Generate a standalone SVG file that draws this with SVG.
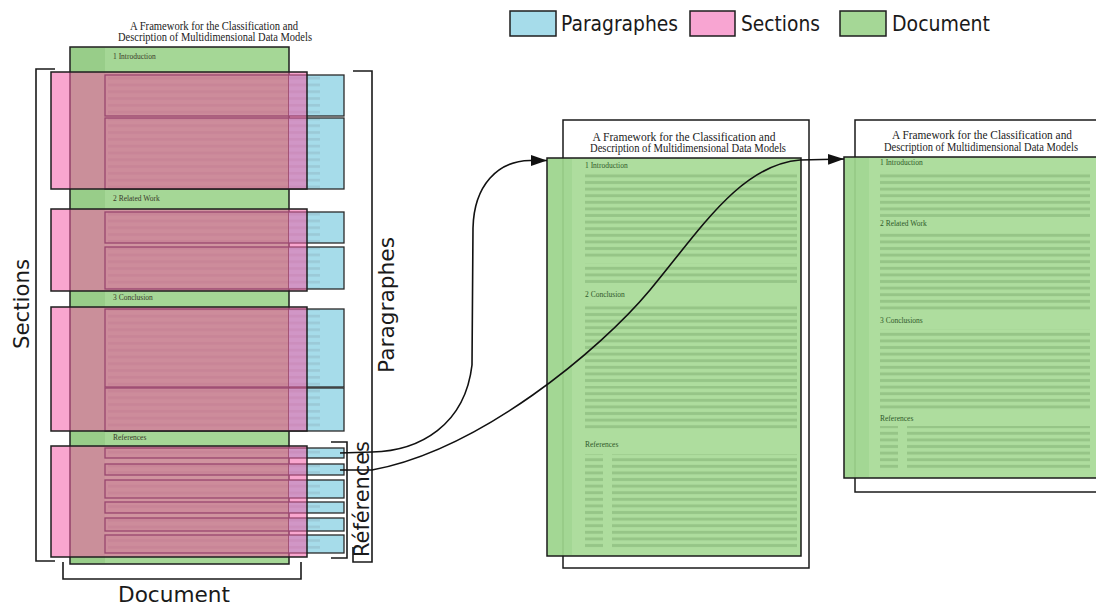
<svg xmlns="http://www.w3.org/2000/svg" width="1096" height="608" viewBox="0 0 1096 608">
<style>
.lbl{font-family:"DejaVu Sans","Liberation Sans",sans-serif;font-size:21px;fill:#1a1a1a}
.ttl{font-family:"Liberation Serif","DejaVu Serif",serif;font-size:11.5px;fill:#222}
.hd{font-family:"Liberation Serif","DejaVu Serif",serif;font-size:7.5px;fill:#2f5a2a}
.hdl{font-family:"Liberation Serif","DejaVu Serif",serif;font-size:7.5px;fill:#3a3a2a}
.blue{fill:#a6dcea;stroke:#1e1e1e;stroke-width:1.5}
.pink{fill:#f8a5d2;stroke:#1e1e1e;stroke-width:1.5}
.green{fill:#a5d796;stroke:#1e1e1e;stroke-width:1.5}
.sec{fill:#f45da8;fill-opacity:0.55;stroke:#1e1e1e;stroke-width:1.5}
.par{fill:none;stroke:#2a2a2a;stroke-width:1.3}
.parb{fill:#a6dcea;stroke:none}
.tint{fill:#5a2a3a;fill-opacity:0.1}
.brk{fill:none;stroke:#1a1a1a;stroke-width:1.6}
.page{fill:#fff;stroke:#1a1a1a;stroke-width:1.5}
.pg{fill:#a5d994;fill-opacity:0.9;stroke:#1a1a1a;stroke-width:1.5}
.conn{fill:none;stroke:#111;stroke-width:1.6}
</style>
<defs>
<pattern id="tl" patternUnits="userSpaceOnUse" width="8" height="6.8">
<rect x="0" y="2" width="8" height="2.6" fill="#3a2a30" fill-opacity="0.1"/>
</pattern>
<pattern id="tp" patternUnits="userSpaceOnUse" width="8" height="6.6" y="1">
<rect x="0" y="1.8" width="8" height="3" fill="#3f7036" fill-opacity="0.22"/>
</pattern>
<marker id="arr" markerUnits="userSpaceOnUse" markerWidth="17" markerHeight="11" refX="16" refY="5.5" orient="auto">
<path d="M0,0 L16,5.5 L0,11 z" fill="#111"/>
</marker>
</defs>
<rect width="1096" height="608" fill="#fff"/>

<!-- legend -->
<g id="legend-paragraphes"><rect class="blue" x="510" y="11" width="46" height="25"/><text class="lbl" x="561" y="31" textLength="117" lengthAdjust="spacingAndGlyphs">Paragraphes</text></g>
<g id="legend-sections"><rect class="pink" x="690" y="11" width="45" height="25"/><text class="lbl" x="741" y="31" textLength="79" lengthAdjust="spacingAndGlyphs">Sections</text></g>
<g id="legend-document"><rect class="green" x="840" y="11" width="46" height="25"/><text class="lbl" x="892" y="31" textLength="98" lengthAdjust="spacingAndGlyphs">Document</text></g>

<!-- left document -->
<g id="doc-title">
<text class="ttl" x="214" y="30" text-anchor="middle" textLength="168" lengthAdjust="spacingAndGlyphs">A Framework for the Classification and</text>
<text class="ttl" x="215" y="41" text-anchor="middle" textLength="194" lengthAdjust="spacingAndGlyphs">Description of Multidimensional Data Models</text>
</g>
<g id="document">
<rect class="green" x="70" y="47" width="219" height="517"/>
<rect x="71" y="48" width="34" height="515" fill="#98cd89"/>
<text class="hdl" x="113" y="59">1 Introduction</text>
<text class="hdl" x="113" y="201">2 Related Work</text>
<text class="hdl" x="113" y="300">3 Conclusion</text>
<text class="hdl" x="113" y="440">References</text>
</g>
<g id="paragraphs">
<g id="p1"><rect class="parb" x="289" y="75" width="55" height="41"/><rect class="tint" x="105" y="75" width="184" height="41"/><rect x="108" y="75" width="212" height="41" fill="url(#tl)"/><rect class="par" x="105" y="75" width="239" height="41"/></g>
<g id="p2"><rect class="parb" x="289" y="118" width="55" height="71"/><rect class="tint" x="105" y="118" width="184" height="71"/><rect x="108" y="118" width="212" height="71" fill="url(#tl)"/><rect class="par" x="105" y="118" width="239" height="71"/></g>
<g id="p3"><rect class="parb" x="289" y="212" width="55" height="31"/><rect class="tint" x="105" y="212" width="184" height="31"/><rect x="108" y="212" width="212" height="31" fill="url(#tl)"/><rect class="par" x="105" y="212" width="239" height="31"/></g>
<g id="p4"><rect class="parb" x="289" y="247" width="55" height="42"/><rect class="tint" x="105" y="247" width="184" height="42"/><rect x="108" y="247" width="212" height="42" fill="url(#tl)"/><rect class="par" x="105" y="247" width="239" height="42"/></g>
<g id="p5"><rect class="parb" x="289" y="309" width="55" height="78"/><rect class="tint" x="105" y="309" width="184" height="78"/><rect x="108" y="309" width="212" height="78" fill="url(#tl)"/><rect class="par" x="105" y="309" width="239" height="78"/></g>
<g id="p6"><rect class="parb" x="289" y="388" width="55" height="43"/><rect class="tint" x="105" y="388" width="184" height="43"/><rect x="108" y="388" width="212" height="43" fill="url(#tl)"/><rect class="par" x="105" y="388" width="239" height="43"/></g>
<g id="r1"><rect class="parb" x="289" y="448" width="55" height="10"/><rect class="tint" x="105" y="448" width="184" height="10"/><rect x="108" y="448" width="212" height="10" fill="url(#tl)"/><rect class="par" x="105" y="448" width="239" height="10"/></g>
<g id="r2"><rect class="parb" x="289" y="464" width="55" height="11"/><rect class="tint" x="105" y="464" width="184" height="11"/><rect x="108" y="464" width="212" height="11" fill="url(#tl)"/><rect class="par" x="105" y="464" width="239" height="11"/></g>
<g id="r3"><rect class="parb" x="289" y="480" width="55" height="18"/><rect class="tint" x="105" y="480" width="184" height="18"/><rect x="108" y="480" width="212" height="18" fill="url(#tl)"/><rect class="par" x="105" y="480" width="239" height="18"/></g>
<g id="r4"><rect class="parb" x="289" y="502" width="55" height="11"/><rect class="tint" x="105" y="502" width="184" height="11"/><rect x="108" y="502" width="212" height="11" fill="url(#tl)"/><rect class="par" x="105" y="502" width="239" height="11"/></g>
<g id="r5"><rect class="parb" x="289" y="518" width="55" height="13"/><rect class="tint" x="105" y="518" width="184" height="13"/><rect x="108" y="518" width="212" height="13" fill="url(#tl)"/><rect class="par" x="105" y="518" width="239" height="13"/></g>
<g id="r6"><rect class="parb" x="289" y="535" width="55" height="18"/><rect class="tint" x="105" y="535" width="184" height="18"/><rect x="108" y="535" width="212" height="18" fill="url(#tl)"/><rect class="par" x="105" y="535" width="239" height="18"/></g>
</g>
<g id="sections">
<rect id="s1" class="sec" x="51" y="72" width="256" height="117"/>
<rect id="s2" class="sec" x="51" y="209" width="256" height="82"/>
<rect id="s3" class="sec" x="51" y="307" width="256" height="124"/>
<rect id="s4" class="sec" x="51" y="446" width="256" height="111"/>
</g>

<!-- brackets and labels -->
<g id="bracket-sections"><path class="brk" d="M55,69 H36 V561 H55"/><text class="lbl" transform="translate(29,304) rotate(-90)" text-anchor="middle" textLength="90" lengthAdjust="spacingAndGlyphs">Sections</text></g>
<g id="bracket-paragraphes"><path class="brk" d="M353,71 H372 V562 H353 V547"/><text class="lbl" transform="translate(394,305) rotate(-90)" text-anchor="middle" textLength="136" lengthAdjust="spacingAndGlyphs">Paragraphes</text></g>
<g id="bracket-references"><path class="brk" d="M331,442 H347 V558 H331"/><text class="lbl" font-size="20" transform="translate(369,499) rotate(-90)" text-anchor="middle" textLength="116" lengthAdjust="spacingAndGlyphs">Références</text></g>
<g id="bracket-document"><path class="brk" d="M63,562 V579 H301 V562"/><text class="lbl" x="118" y="602" textLength="112" lengthAdjust="spacingAndGlyphs">Document</text></g>

<!-- middle page -->
<g id="page-1">
<rect class="page" x="563" y="120" width="246" height="448"/>
<text class="ttl" x="684" y="141" text-anchor="middle" textLength="183" lengthAdjust="spacingAndGlyphs">A Framework for the Classification and</text>
<text class="ttl" x="688" y="152" text-anchor="middle" textLength="196" lengthAdjust="spacingAndGlyphs">Description of Multidimensional Data Models</text>
<rect class="pg" x="547" y="158" width="254" height="398"/>
<rect x="548" y="159" width="24" height="396" fill="#8fcc80" fill-opacity="0.35"/>
<text class="hd" x="585" y="168">1 Introduction</text>
<rect x="585" y="173" width="212" height="44" fill="url(#tp)"/>
<rect x="585" y="219" width="212" height="40" fill="url(#tp)"/>
<rect x="585" y="263" width="212" height="20" fill="url(#tp)"/>
<text class="hd" x="585" y="297">2 Conclusion</text>
<rect x="585" y="303" width="212" height="80" fill="url(#tp)"/>
<rect x="585" y="386" width="212" height="44" fill="url(#tp)"/>
<text class="hd" x="585" y="447">References</text>
<rect x="585" y="454" width="18" height="95" fill="url(#tp)"/>
<rect x="612" y="454" width="185" height="95" fill="url(#tp)"/>
</g>

<!-- right page -->
<g id="page-2">
<rect class="page" x="855" y="120" width="250" height="372"/>
<text class="ttl" x="982" y="139" text-anchor="middle" textLength="180" lengthAdjust="spacingAndGlyphs">A Framework for the Classification and</text>
<text class="ttl" x="981" y="151" text-anchor="middle" textLength="194" lengthAdjust="spacingAndGlyphs">Description of Multidimensional Data Models</text>
<rect class="pg" x="844" y="157" width="260" height="321"/>
<rect x="845" y="158" width="24" height="319" fill="#8fcc80" fill-opacity="0.35"/>
<text class="hd" x="880" y="165">1 Introduction</text>
<rect x="880" y="171" width="210" height="46" fill="url(#tp)"/>
<text class="hd" x="880" y="226">2 Related Work</text>
<rect x="880" y="231" width="210" height="33" fill="url(#tp)"/>
<rect x="880" y="266" width="210" height="44" fill="url(#tp)"/>
<text class="hd" x="880" y="323">3 Conclusions</text>
<rect x="880" y="329" width="210" height="82" fill="url(#tp)"/>
<text class="hd" x="880" y="421">References</text>
<rect x="880" y="426" width="18" height="45" fill="url(#tp)"/>
<rect x="907" y="426" width="183" height="45" fill="url(#tp)"/>
</g>

<!-- connectors -->
<g id="connectors">
<path class="conn" d="M340,453 L372,452 C420,451 465,425 472,365 L473,228 C474,185 498,161 530,160.5 L547,160.5" marker-end="url(#arr)"/>
<path class="conn" d="M340,470 L372,470 C480,450 600,350 650,290 C700,230 740,165 800,160 L844,159" marker-end="url(#arr)"/>
</g>
</svg>
